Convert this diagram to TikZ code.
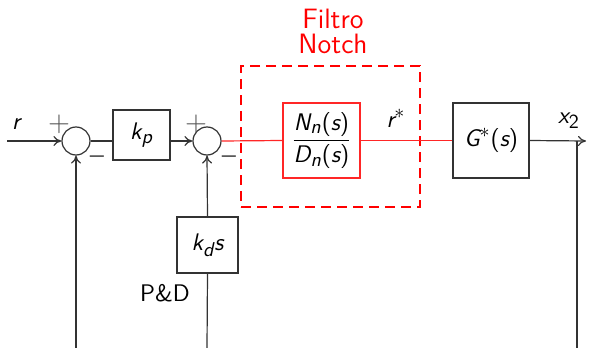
\documentclass[tikz,border=0pt]{standalone}
\usepackage{amsmath}
\renewcommand{\familydefault}{\sfdefault}
\usepackage[italic]{mathastext}
\usepackage{tikz}
\usetikzlibrary{arrows.meta, positioning}
\definecolor{LineGray}{HTML}{333333}
\definecolor{SignGray}{HTML}{555555}
\definecolor{NotchRed}{HTML}{FF0000}

\begin{document}
\begin{tikzpicture}[
  x=0.5pt, y=-0.5pt,
  every node/.style={font=\sffamily\large},
  block/.style={rectangle, draw=LineGray, line width=0.6pt, inner sep=0pt},
  sumnode/.style={circle, draw=LineGray, line width=0.6pt, minimum size=14pt, inner sep=0pt},
  arr/.style={-{To[length=4pt,width=5pt]}, line width=0.6pt, LineGray},
  wire/.style={line width=0.6pt, LineGray},
  redwire/.style={line width=0.6pt, NotchRed!85},
  lbl/.style={font=\sffamily\large, text=black},
  sign/.style={font=\sffamily\Large, text=SignGray, inner sep=0pt},
]
\useasboundingbox (0,0) rectangle (589,348);

% forward path
\node[sumnode] (sum1) at (76,141) {};
\node[block, minimum width=28.5pt, minimum height=25pt] (kp) at (141.5,135) {$k_p$};
\node[sumnode] (sum2) at (207,141) {};
\node[block, draw=NotchRed!85, minimum width=38.5pt, minimum height=37.5pt] (notch) at (321.5,140.5)
  {$\dfrac{N_n(s)}{D_n(s)}$};
\node[block, minimum width=38pt, minimum height=37.5pt] (plant) at (491,140.5) {$G^{*}(s)$};
\node[block, minimum width=30.5pt, minimum height=28pt] (kd) at (207.5,245) {$k_d s$};

% filter frame
\node[rectangle, draw=NotchRed, line width=0.9pt, dash pattern=on 5pt off 3pt,
      minimum width=89.5pt, minimum height=70.5pt, inner sep=0pt] (frame) at (330.5,136.5) {};
\node[align=center, text=NotchRed, font=\sffamily\fontsize{14}{12.5}\selectfont, inner sep=0pt]
  (title) at (333,31) {Filtro\\Notch};

% free ends
\coordinate (in) at (7,141);
\coordinate (out) at (586,141);
\coordinate (tap) at (577,141);
\coordinate (fb1) at (76,348);
\coordinate (fb2) at (207,348);
\coordinate (fb3) at (577,348);

\draw[arr] (in) -- (sum1.west);
\draw[wire] (sum1.east) -- (sum1.east -| kp.west);
\draw[arr] (sum2.west -| kp.east) -- (sum2.west);
\draw[redwire] (sum2.east) -- (notch.west);
\draw[redwire] (notch.east) -- (plant.west);
\draw[arr] (plant.east) -- (out);
\draw[wire] (tap) -- (fb3);
\draw[arr] (fb1) -- (sum1.south);
\draw[wire] (fb2) -- (kd.south);
\draw[arr] (kd.north) -- (sum2.south);

% labels
\node[lbl] (rin) at (16,124) {$r$};
\node[sign] (p1) at (59,124) {$+$};
\node[sign] (m1) at (97,160) {$-$};
\node[sign] (p2) at (196,124) {$+$};
\node[sign] (m2) at (229,160) {$-$};
\node[lbl] (rstar) at (396,118) {$r^{*}$};
\node[lbl] (xout) at (569,121) {$x_2$};
\node[lbl] (pd) at (165,293) {P\&D};

\end{tikzpicture}
\end{document}
